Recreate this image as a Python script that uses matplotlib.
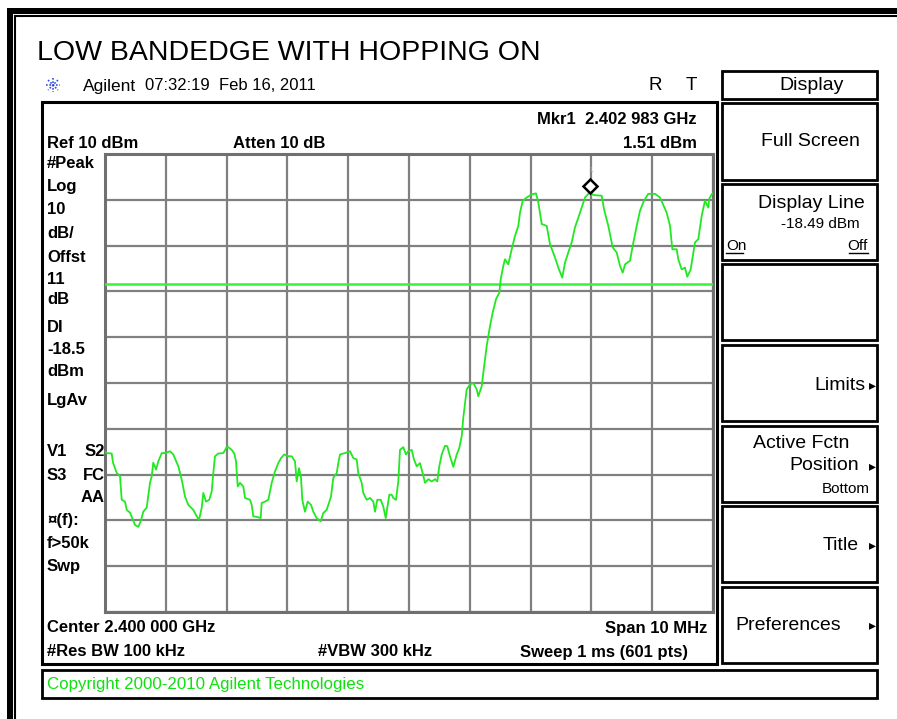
import numpy as np
import matplotlib
matplotlib.use("Agg")
import matplotlib.pyplot as plt
from matplotlib.patches import Rectangle
from matplotlib.transforms import offset_copy

plt.rcParams['font.family'] = ['Liberation Sans', 'DejaVu Sans']

# ---- instrument settings ----
center_mhz = 2400.0
span_mhz = 10.0
ref_dbm = 10.0
db_per_div = 10.0
display_line_dbm = -18.49
mkr_freq_mhz = 2402.983
mkr_dbm = 1.51

# ---- trace (MHz, dBm) ----
trace_freq = [2395.000, 2395.028, 2395.110, 2395.132, 2395.192, 2395.247, 2395.275, 2395.329,
              2395.357, 2395.411, 2395.461, 2395.493, 2395.548, 2395.587, 2395.630, 2395.686,
              2395.740, 2395.768, 2395.794, 2395.839, 2395.877, 2395.933, 2395.987, 2396.069,
              2396.123, 2396.206, 2396.262, 2396.316, 2396.370, 2396.452, 2396.508, 2396.546,
              2396.590, 2396.617, 2396.661, 2396.715, 2396.755, 2396.781, 2396.809, 2396.863,
              2396.946, 2397.002, 2397.028, 2397.084, 2397.127, 2397.155, 2397.183, 2397.220,
              2397.275, 2397.303, 2397.385, 2397.413, 2397.439, 2397.521, 2397.561, 2397.577,
              2397.632, 2397.686, 2397.742, 2397.796, 2397.850, 2397.895, 2397.949, 2398.015,
              2398.071, 2398.125, 2398.153, 2398.191, 2398.224, 2398.245, 2398.289, 2398.334,
              2398.388, 2398.426, 2398.482, 2398.548, 2398.590, 2398.646, 2398.717, 2398.755,
              2398.811, 2398.837, 2398.865, 2398.947, 2399.030, 2399.084, 2399.140, 2399.166,
              2399.222, 2399.248, 2399.304, 2399.359, 2399.413, 2399.441, 2399.479, 2399.535,
              2399.577, 2399.617, 2399.643, 2399.676, 2399.715, 2399.742, 2399.786, 2399.824,
              2399.852, 2399.906, 2399.951, 2399.988, 2400.044, 2400.082, 2400.127, 2400.181,
              2400.225, 2400.263, 2400.318, 2400.373, 2400.428, 2400.465, 2400.498, 2400.538,
              2400.592, 2400.630, 2400.674, 2400.729, 2400.785, 2400.827, 2400.867, 2400.893,
              2400.949, 2401.003, 2401.058, 2401.114, 2401.140, 2401.196, 2401.222, 2401.278,
              2401.332, 2401.377, 2401.431, 2401.485, 2401.508, 2401.551, 2401.579, 2401.633,
              2401.689, 2401.743, 2401.798, 2401.826, 2401.870, 2401.936, 2402.018, 2402.089,
              2402.127, 2402.183, 2402.265, 2402.319, 2402.401, 2402.467, 2402.521, 2402.566,
              2402.620, 2402.676, 2402.730, 2402.785, 2402.840, 2402.895, 2402.949, 2402.983,
              2403.005, 2403.059, 2403.169, 2403.207, 2403.278, 2403.350, 2403.416, 2403.470,
              2403.515, 2403.553, 2403.635, 2403.679, 2403.745, 2403.799, 2403.865, 2403.936,
              2404.046, 2404.128, 2404.238, 2404.293, 2404.331, 2404.403, 2404.429, 2404.485,
              2404.539, 2404.577, 2404.633, 2404.704, 2404.758, 2404.814, 2404.868, 2404.922,
              2404.938, 2404.978, 2405.000]
trace_dbm = [-55.0, -55.3, -55.4, -57.4, -59.6, -60.4, -65.5, -65.9,
             -67.7, -68.3, -69.9, -71.0, -71.4, -70.2, -68.1, -67.2,
             -61.8, -60.4, -57.4, -58.9, -57.1, -55.3, -55.3, -54.9,
             -55.6, -58.2, -61.1, -64.8, -66.6, -67.7, -69.1, -69.9,
             -67.3, -64.0, -65.9, -65.5, -63.7, -59.7, -56.0, -55.4,
             -55.3, -54.0, -54.0, -54.6, -55.4, -57.1, -62.6, -61.8,
             -62.6, -65.1, -65.5, -66.6, -69.1, -69.3, -69.5, -66.2,
             -65.9, -65.5, -61.8, -59.3, -57.5, -56.4, -55.6, -56.0,
             -56.0, -57.1, -61.5, -58.6, -60.7, -65.5, -68.1, -65.9,
             -66.6, -68.1, -69.5, -70.2, -68.4, -67.7, -64.8, -60.7,
             -59.7, -57.5, -55.6, -55.3, -54.9, -56.4, -56.7, -59.7,
             -61.8, -64.0, -65.5, -65.1, -65.9, -68.1, -65.5, -65.5,
             -67.0, -69.5, -67.3, -64.4, -64.4, -65.1, -65.5, -61.5,
             -54.6, -54.0, -55.6, -54.9, -54.6, -56.7, -58.2, -57.5,
             -59.7, -61.8, -61.0, -61.5, -61.0, -61.5, -58.2, -55.6,
             -53.7, -53.8, -56.0, -58.3, -55.6, -54.2, -51.6, -47.6,
             -41.4, -40.3, -40.0, -41.4, -42.9, -40.7, -37.8, -31.9,
             -27.6, -24.6, -21.7, -20.3, -17.4, -14.4, -13.0, -14.1,
             -10.8, -7.9, -5.7, -2.8, -0.2, 0.5, 1.2, 1.4,
             -0.6, -5.3, -5.7, -9.7, -12.6, -15.2, -17.0, -13.7,
             -11.5, -9.3, -6.0, -3.9, -1.7, 0.5, 1.3, 1.51,
             1.2, 1.0, 0.9, -2.0, -5.7, -10.4, -11.5, -14.4,
             -15.9, -14.1, -13.3, -10.1, -5.7, -2.4, -0.2, 1.3,
             1.3, 0.5, -2.8, -5.7, -10.8, -10.8, -13.0, -15.2,
             -14.8, -16.8, -15.2, -9.3, -8.6, -3.5, -0.2, -1.7,
             0.2, 1.2, 1.4]

# ---- screen text ----
title_text = "LOW BANDEDGE WITH HOPPING ON"
left_labels = [("#Peak", 164), ("Log", 187), ("10", 210), ("dB/", 234), ("Offst", 257),
               ("11", 279), ("dB", 300), ("DI", 328), ("-18.5", 350), ("dBm", 371),
               ("LgAv", 401), ("¤(f):", 521), ("f>50k", 544), ("Swp", 567)]

W, H = 897, 719
fig = plt.figure(figsize=(W / 100, H / 100), dpi=100)
fig.patch.set_facecolor('white')

# overlay in pixel coordinates for the frame, boxes and annotations
ov = fig.add_axes([0, 0, 1, 1])
ov.set_xlim(0, W)
ov.set_ylim(H, 0)
ov.axis('off')


def box(x0, y0, x1, y1, lw=2.0, color='black'):
    ov.add_patch(Rectangle((x0, y0), x1 - x0, y1 - y0, fill=False, lw=lw, ec=color))


def txt(x, y, s, size=11.5, ha='left', bold=False, color='black', **kw):
    ov.text(x, y, s, fontsize=size, ha=ha, va='center', color=color,
            fontweight='bold' if bold else 'normal', **kw)


# outer window frame (right and bottom edges are cut off in the capture)
ov.add_patch(Rectangle((7, 8), W - 7, 6, color='black', lw=0))
ov.add_patch(Rectangle((7, 8), 6, H - 8, color='black', lw=0))
ov.plot([15, 15], [16, H], color='black', lw=1.5)
ov.plot([15, W], [16, 16], color='black', lw=1.5)

txt(37, 53, title_text, size=20.5)

# Agilent spark logo
for ang in np.arange(0, np.pi, np.pi / 4):
    dx, dy = 7 * np.cos(ang), 7 * np.sin(ang)
    ov.plot([53 - dx, 53 + dx], [85 - dy, 85 + dy], color='#3050e0', lw=1.2, ls=(0, (1, 1)))
txt(83, 86, "Agilent", size=12.5)
txt(145, 86, "07:32:19  Feb 16, 2011", size=12)
txt(648, 86, "R", size=13.5)
txt(686, 86, "T", size=13.5)

# analyser screen box
bs = 12
box(42, 102, 717, 664, lw=2.2)
txt(697, 119, "Mkr1  2.402 983 GHz", size=bs, ha='right', bold=True)
txt(697, 143, "1.51 dBm", size=bs, ha='right', bold=True)
txt(47, 143, "Ref 10 dBm", size=bs, bold=True)
txt(233, 143, "Atten 10 dB", size=bs, bold=True)
for s, y in left_labels:
    txt(47, y, s, size=bs, bold=True)
txt(47, 451, "V1", size=bs, bold=True)
txt(105, 451, "S2", size=bs, bold=True, ha='right')
txt(47, 475, "S3", size=bs, bold=True)
txt(105, 475, "FC", size=bs, bold=True, ha='right')
txt(105, 498, "AA", size=bs, bold=True, ha='right')
txt(47, 628, "Center 2.400 000 GHz", size=bs, bold=True)
txt(707, 628, "Span 10 MHz", size=bs, ha='right', bold=True)
txt(47, 652, "#Res BW 100 kHz", size=bs, bold=True)
txt(318, 652, "#VBW 300 kHz", size=bs, bold=True)
txt(688, 652, "Sweep 1 ms (601 pts)", size=bs, ha='right', bold=True)

# copyright bar
box(42, 670, 877, 698, lw=2.0)
txt(47, 684, "Copyright 2000-2010 Agilent Technologies", size=12.2, color='#10e010')

# softkey panel
box(722, 71, 877, 99)
txt(812, 86, "Display", size=14, ha='center')
keys = [(103, 180), (184, 260), (264, 340), (345, 421), (426, 502), (506, 582), (587, 663)]
for y0, y1 in keys:
    box(722, y0, 877, y1)
txt(860, 142, "Full Screen", size=14, ha='right')
txt(865, 203, "Display Line", size=14, ha='right')
txt(860, 224, "-18.49 dBm", size=11, ha='right')
txt(726, 246, "On", size=11)
txt(868, 246, "Off", size=11, ha='right')
ov.plot([726, 743], [253, 253], color='black', lw=1)
ov.plot([849, 868], [253, 253], color='black', lw=1)
txt(865, 385, "Limits", size=14, ha='right')
txt(849, 443, "Active Fctn", size=14, ha='right')
txt(859, 466, "Position", size=14, ha='right')
txt(870, 489, "Bottom", size=11, ha='right')
txt(859, 545, "Title", size=14, ha='right')
txt(735, 625, "Preferences", size=14)
for y in (385, 466, 545, 625):
    ov.text(872, y, "\u25b8", fontsize=10, ha='center', va='center', family='DejaVu Sans')

# spectrum graticule
px0, px1, py0, py1 = 105, 713, 154, 612
ax = fig.add_axes([px0 / W, 1 - py1 / H, (px1 - px0) / W, (py1 - py0) / H])
f_lo, f_hi = center_mhz - span_mhz / 2, center_mhz + span_mhz / 2
bottom = ref_dbm - 10 * db_per_div
ax.set_xlim(f_lo, f_hi)
ax.set_ylim(bottom, ref_dbm)
ax.set_xticks(np.linspace(f_lo, f_hi, 11))
ax.set_yticks(np.linspace(bottom, ref_dbm, 11))
ax.tick_params(length=0, labelbottom=False, labelleft=False)
ax.grid(True, color='#808080', lw=1.6)
for sp in ax.spines.values():
    sp.set_color('#707070')
    sp.set_linewidth(2.2)

ax.axhline(display_line_dbm, color='#3cf03c', lw=1.8, zorder=3)
ax.plot(trace_freq, trace_dbm, color='#22e822', lw=1.3, zorder=4)

# marker diamond sits just above the trace point
mk_tr = offset_copy(ax.transData, fig=fig, x=0, y=7, units='dots')
ax.plot([mkr_freq_mhz], [mkr_dbm], marker='D', ms=7, mfc='white', mec='black',
        mew=1.8, transform=mk_tr, zorder=5, clip_on=False)
lbl_tr = offset_copy(ax.transData, fig=fig, x=0, y=22, units='dots')
ax.text(mkr_freq_mhz, mkr_dbm, "1", fontsize=6, color='#a0a0a0', ha='center',
        va='center', transform=lbl_tr, clip_on=False)

fig.savefig("out.png", dpi=100)
